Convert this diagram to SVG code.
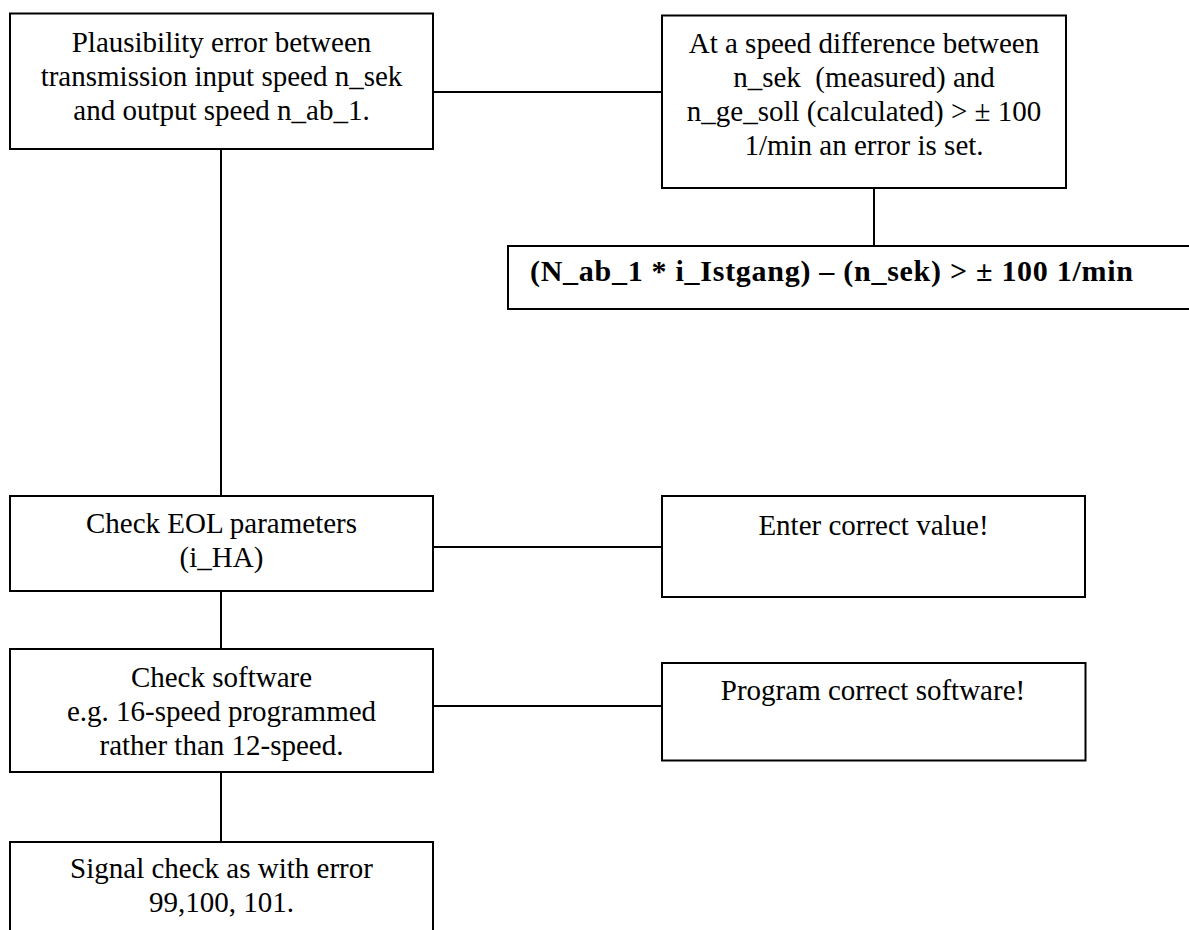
<svg xmlns="http://www.w3.org/2000/svg" width="1189" height="930" viewBox="0 0 1189 930">
<style>
.box{fill:#fff;stroke:#000;stroke-width:2}
.t{font-family:"Liberation Serif","Times New Roman",serif;font-size:29px;fill:#000;text-anchor:middle}
.b{font-weight:bold;font-size:30px}
.c{stroke:#000;stroke-width:2;fill:none}
</style>
<rect width="1189" height="930" fill="#fff"/>
<g id="connectors">
<line class="c" x1="433" y1="92" x2="662" y2="92"/>
<line class="c" x1="874" y1="188" x2="874" y2="246"/>
<line class="c" x1="221" y1="149" x2="221" y2="496"/>
<line class="c" x1="433" y1="547" x2="662" y2="547"/>
<line class="c" x1="221" y1="591" x2="221" y2="649"/>
<line class="c" x1="433" y1="706" x2="662" y2="706"/>
<line class="c" x1="221" y1="772" x2="221" y2="842"/>
</g>
<g id="n1">
<rect class="box" x="10" y="13.5" width="423" height="135.5"/>
<text class="t" x="221.5" y="52">Plausibility error between</text>
<text class="t" x="221.5" y="86">transmission input speed n_sek</text>
<text class="t" x="221.5" y="120">and output speed n_ab_1.</text>
</g>
<g id="n2">
<rect class="box" x="662" y="15.5" width="404" height="172.5"/>
<text class="t" x="864" y="53">At a speed difference between</text>
<text class="t" x="864" y="87" xml:space="preserve">n_sek  (measured) and</text>
<text class="t" x="864" y="121">n_ge_soll (calculated) &gt; ± 100</text>
<text class="t" x="864" y="155">1/min an error is set.</text>
</g>
<g id="n3">
<rect class="box" x="508" y="246" width="700" height="63"/>
<text class="t b" x="831.5" y="281" textLength="603" lengthAdjust="spacing">(N_ab_1 * i_Istgang) – (n_sek) &gt; ± 100 1/min</text>
</g>
<g id="n4">
<rect class="box" x="10" y="496" width="423" height="95"/>
<text class="t" x="221.5" y="533">Check EOL parameters</text>
<text class="t" x="221.5" y="567">(i_HA)</text>
</g>
<g id="n5">
<rect class="box" x="662" y="496" width="423" height="101"/>
<text class="t" x="873.5" y="535">Enter correct value!</text>
</g>
<g id="n6">
<rect class="box" x="10" y="649" width="423" height="123"/>
<text class="t" x="221.5" y="687">Check software</text>
<text class="t" x="221.5" y="721">e.g. 16-speed programmed</text>
<text class="t" x="221.5" y="755">rather than 12-speed.</text>
</g>
<g id="n7">
<rect class="box" x="662" y="663" width="423.5" height="97.5"/>
<text class="t" x="873" y="700">Program correct software!</text>
</g>
<g id="n8">
<rect class="box" x="10" y="842" width="423" height="120"/>
<text class="t" x="221.5" y="878">Signal check as with error</text>
<text class="t" x="221.5" y="912">99,100, 101.</text>
</g>
</svg>
